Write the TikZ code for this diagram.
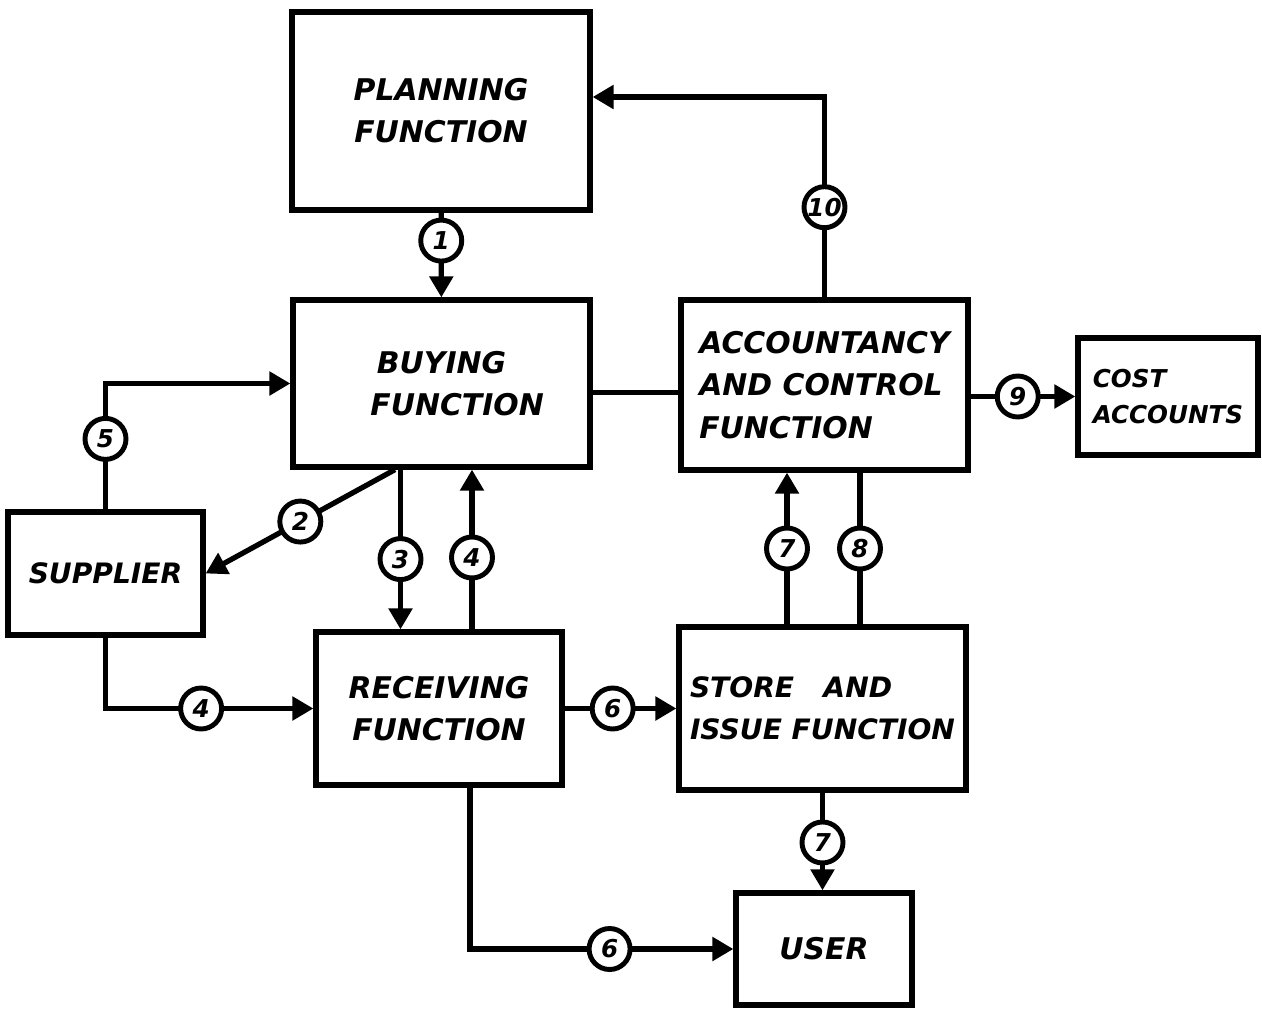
\documentclass[tikz,border=0pt]{standalone}
\usepackage{fontspec}
\setmainfont{DejaVu Sans}
\usetikzlibrary{arrows.meta}
\begin{document}
\begin{tikzpicture}[x=0.02cm,y=-0.02cm,
  box/.style={draw, line width=3pt, inner sep=2pt, font=\bfseries\itshape\fontsize{17}{24}\selectfont},
  conn/.style={line width=3pt},
  arr/.style={-{Triangle[length=0.42cm,width=0.46cm]}},
  numc/.style={circle, draw, line width=2.8pt, fill=white, minimum size=0.82cm, inner sep=0pt, font=\bfseries\itshape\fontsize{14}{14}\selectfont}]
\useasboundingbox (0,0) rectangle (1262,1021);

\node[box, minimum width=5.96cm, minimum height=3.96cm, align=center] (plan) at (441,111) {PLANNING\\FUNCTION};
\node[box, minimum width=5.94cm, minimum height=3.34cm, align=center] (buy) at (441.5,383.5) {BUYING\\\ \ \ FUNCTION};
\node[box, minimum width=5.74cm, minimum height=3.4cm, align=left] (acc) at (824.5,385) {ACCOUNTANCY\\AND CONTROL\\FUNCTION};
\node[box, minimum width=3.6cm, minimum height=2.34cm, align=left, font=\bfseries\itshape\fontsize{14}{21}\selectfont] (cost) at (1168,396.5) {COST\\ACCOUNTS};
\node[box, minimum width=3.9cm, minimum height=2.46cm, font=\bfseries\itshape\fontsize{16}{20}\selectfont] (sup) at (105.5,573.5) {SUPPLIER};
\node[box, minimum width=4.92cm, minimum height=3.06cm, align=center] (rec) at (439,708.5) {RECEIVING\\FUNCTION};
\node[box, minimum width=5.74cm, minimum height=3.26cm, align=left, font=\bfseries\itshape\fontsize{16}{24}\selectfont] (store) at (822.5,708.5) {STORE\ \ \ AND\\ISSUE FUNCTION};
\node[box, minimum width=3.52cm, minimum height=2.24cm] (user) at (824,949) {USER};

% 1 planning -> buying
\draw[conn,arr] (plan) -- node[numc,pos=0.33]{1} (buy);
% 10 accountancy -> planning
\draw[conn,arr] (acc.north) |- node[numc,pos=0.225]{10} ([yshift=0.28cm]plan.east);
% buying -- accountancy
\draw[conn] ([yshift=-0.18cm]buy.east) -- ([yshift=-0.18cm]buy.east -| acc.west);
% 9 accountancy -> cost accounts
\draw[conn,arr] (acc.east |- cost.west) -- node[numc,pos=0.45]{9} (cost.west);
% 5 supplier -> buying
\draw[conn,arr] (sup.north) |- node[numc,pos=0.28]{5} (buy.west);
% 2 buying -> supplier
\draw[conn,arr] ([xshift=-0.93cm]buy.south) -- node[numc,pos=0.5]{2} (sup.east);
% 3 buying -> receiving
\draw[conn,arr] ([xshift=-0.82cm]buy.south) -- node[numc,pos=0.56]{3} ([xshift=-0.82cm]buy.south |- rec.north);
% 4 receiving -> buying
\draw[conn,arr] ([xshift=0.66cm]rec.north) -- node[numc,pos=0.45]{4} ([xshift=0.66cm]rec.north |- buy.south);
% 4 supplier -> receiving
\draw[conn,arr] (sup.south) |- node[numc,pos=0.73]{4} (rec.west);
% 6 receiving -> store
\draw[conn,arr] (rec.east) -- node[numc,pos=0.43]{6} (store.west);
% 7 store -> accountancy
\draw[conn,arr] ([xshift=-0.71cm]store.north) -- node[numc,pos=0.5]{7} ([xshift=-0.71cm]store.north |- acc.south);
% 8 accountancy -- store
\draw[conn] ([xshift=0.71cm]acc.south) -- node[numc,pos=0.5]{8} ([xshift=0.71cm]acc.south |- store.north);
% 7 store -> user
\draw[conn,arr] (store.south) -- node[numc,pos=0.51]{7} (store.south |- user.north);
% 6 receiving -> user
\draw[conn,arr] ([xshift=0.62cm]rec.south) |- node[numc,pos=0.765]{6} (user.west);
\end{tikzpicture}
\end{document}
